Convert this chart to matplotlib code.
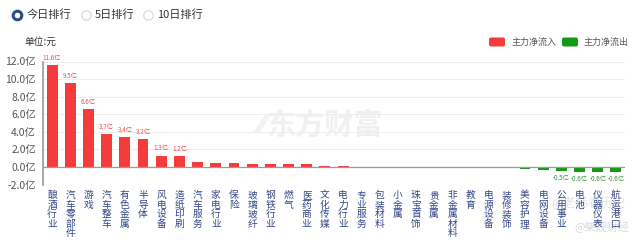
import numpy as np
import matplotlib
matplotlib.use('Agg')
import matplotlib.pyplot as plt
from matplotlib.patches import FancyBboxPatch

plt.rcParams['font.family'] = ['Noto Sans CJK SC', 'DejaVu Sans']

# sector names and main-force net inflow (亿元)
sectors = ['酿酒行业', '汽车零部件', '游戏', '汽车整车', '有色金属', '半导体', '风电设备', '造纸印刷',
           '汽车服务', '家电行业', '保险', '玻璃玻纤', '钢铁行业', '燃气', '医药商业', '文化传媒',
           '电力行业', '专业服务', '包装材料', '小金属', '珠宝首饰', '贵金属', '非金属材料', '教育',
           '电源设备', '装修装饰', '美容护理', '电网设备', '公用事业', '电池', '仪器仪表', '航运港口']
flow = [11.6, 9.5, 6.6, 3.7, 3.4, 3.2, 1.3, 1.2,
        0.55, 0.47, 0.4, 0.38, 0.35, 0.33, 0.28, 0.15,
        0.06, 0.03, 0.02, 0.01, 0.005, -0.01, -0.05, -0.1,
        -0.12, -0.15, -0.25, -0.3, -0.5, -0.6, -0.6, -0.6]
n_labelled_top = 8
n_labelled_bottom = 4
yticks = [-2, 0, 2, 4, 6, 8, 10, 12]

red = '#f53c3c'
green = '#129a12'

fig = plt.figure(figsize=(6.4, 2.41), dpi=100)
fig.patch.set_facecolor('white')

# overlay in pixel coordinates for the page decorations
top = fig.add_axes([0, 0, 1, 1])
top.set_xlim(0, 640)
top.set_ylim(241, 0)
top.axis('off')

# watermark
top.text(324, 125, '东方财富', fontsize=21, fontweight='bold', color='#f0f0f0',
         ha='center', va='center', zorder=0)
top.text(263, 125, '⁄⁄', fontsize=18, fontweight='bold', color='#f0f0f0',
         ha='center', va='center', zorder=0)

ax = fig.add_axes([43 / 640, 1 - 184.5 / 241, 582 / 640, (184.5 - 61.5) / 241])
ax.set_facecolor('none')
x = np.arange(len(sectors))
vals = np.array(flow)
colors = [red if v >= 0 else green for v in vals]
ax.bar(x, vals, width=0.6, color=colors, zorder=3)

ax.set_xlim(-0.5, len(sectors) - 0.5)
ax.set_ylim(-2, 12)
ax.set_yticks(yticks)
ax.set_yticklabels([f'{t:.1f}亿' for t in yticks], fontsize=7.5, color='#555555')
ax.tick_params(axis='y', length=0, pad=5)
ax.tick_params(axis='x', length=0, pad=4)
ax.set_xticks(x)
ax.set_xticklabels(['\n'.join(s) for s in sectors], fontsize=7, color='#34478a',
                   linespacing=0.95, va='top')
ax.grid(axis='y', color='#ededed', linewidth=0.7, zorder=0)
ax.axhline(0, color='#999999', linewidth=0.9, zorder=4)
for side in ['top', 'right', 'bottom']:
    ax.spines[side].set_visible(False)
ax.spines['left'].set_color('#999999')
ax.spines['left'].set_linewidth(1.2)

for i in range(n_labelled_top):
    ax.text(x[i], vals[i] + 0.35, f'{vals[i]:.1f}亿', fontsize=4.5, color='#e35050',
            ha='center', va='bottom')
for i in range(len(vals) - n_labelled_bottom, len(vals)):
    ax.text(x[i], vals[i] - 0.35, f'{vals[i]:.1f}亿', fontsize=4.5, color='#3c8c3c',
            ha='center', va='top')

# radio buttons
top.plot([17], [15], marker='o', ms=6.2, mfc='white', mec='#2d4b8b', mew=2.2)
top.plot([86], [15], marker='o', ms=6.8, mfc='white', mec='#d6d6d6', mew=0.8)
top.plot([148], [15], marker='o', ms=6.8, mfc='white', mec='#d6d6d6', mew=0.8)
top.text(27, 15, '今日排行', fontsize=8, color='#333333', va='center')
top.text(95, 15, '5日排行', fontsize=8, color='#333333', va='center')
top.text(157, 15, '10日排行', fontsize=8, color='#333333', va='center')
top.text(24, 42, '单位:元', fontsize=7, color='#333333', va='center')

# legend
top.add_patch(FancyBboxPatch((489, 37.5), 16, 9, boxstyle='round,pad=0,rounding_size=2',
                             fc=red, ec='none'))
top.text(511, 42, '主力净流入', fontsize=6.5, color='#555555', va='center')
top.add_patch(FancyBboxPatch((562, 37.5), 16, 9, boxstyle='round,pad=0,rounding_size=2',
                             fc=green, ec='none'))
top.text(584, 42, '主力净流出', fontsize=6.5, color='#555555', va='center')

# reposting watermarks
top.text(588, 202, '@老韩看历史', fontsize=9, color='#dddddd', ha='center', va='center',
         alpha=0.8, zorder=10)
top.text(602, 227, '@柴观财经', fontsize=8, color='#cfcfcf', ha='center', va='center',
         alpha=0.8, zorder=10)

fig.savefig('out.png', dpi=100, facecolor='white')
